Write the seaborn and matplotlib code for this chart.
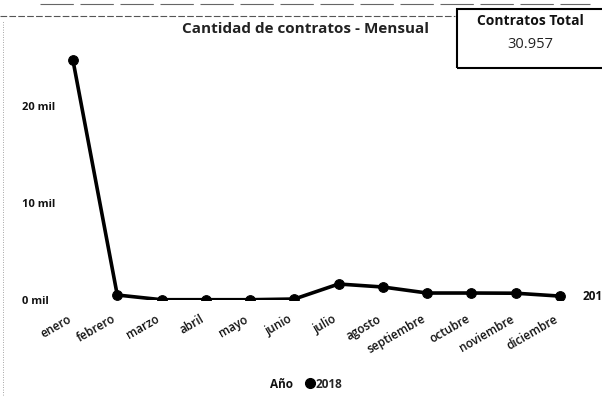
import matplotlib
matplotlib.use("Agg")
import matplotlib.pyplot as plt
import matplotlib.transforms as mtransforms
from matplotlib.lines import Line2D
from matplotlib.patches import Rectangle
import seaborn as sns
import pandas as pd

meses = ["enero", "febrero", "marzo", "abril", "mayo", "junio", "julio",
         "agosto", "septiembre", "octubre", "noviembre", "diciembre"]
contratos = [24720, 515, 30, 30, 30, 100, 1650, 1340, 720, 720, 700, 402]
anio = "2018"
etiqueta_visible = "201"
ytick_vals = [0, 10000, 20000]
ytick_labels = ["0 mil", "10 mil", "20 mil"]
titulo = "Cantidad de contratos - Mensual"
kpi_titulo = "Contratos Total"
kpi_valor = "30.957"

sns.set_theme(style="white")
plt.rcParams["font.family"] = ["Open Sans", "DejaVu Sans"]

df = pd.DataFrame({"mes": meses, "contratos": contratos, "idx": range(len(meses))})

W, H = 602, 403
fig = plt.figure(figsize=(W / 100, H / 100), dpi=100)
left_px, right_px = 59.7, 573.3
bottom_px, top_px = 103, 403 - 48
ax = fig.add_axes([left_px / W, bottom_px / H, (right_px - left_px) / W, (top_px - bottom_px) / H])

sns.lineplot(data=df, x="idx", y="contratos", ax=ax, color="black", linewidth=2.6,
             marker="o", markersize=7, markeredgecolor="black", markerfacecolor="black",
             legend=False)

ax.set_xlim(-0.3, 11.3)
ax.set_ylim(0, 26000)
for s in ax.spines.values():
    s.set_visible(False)
ax.set_xlabel("")
ax.set_ylabel("")

ax.set_yticks(ytick_vals)
ax.set_yticklabels(ytick_labels, fontsize=8, fontweight="bold", color="#111111")
ax.tick_params(axis="y", length=0, pad=27)
for lab in ax.get_yticklabels():
    lab.set_horizontalalignment("left")

ax.set_xticks(range(len(meses)))
ax.set_xticklabels(meses, fontsize=8.5, rotation=30, ha="right", va="top",
                   rotation_mode="anchor", color="#111111", fontweight="semibold")
ax.tick_params(axis="x", length=0, pad=9)
offset = mtransforms.ScaledTranslation(-6 / 100, 0, fig.dpi_scale_trans)
for lab in ax.get_xticklabels():
    lab.set_transform(lab.get_transform() + offset)

# data label on last point (truncated in the reference)
ax.annotate(etiqueta_visible, xy=(11, contratos[-1]), xytext=(16.5, 0), textcoords="offset points",
            fontsize=8.5, fontweight="bold", va="center", ha="left",
            color="#111111", annotation_clip=False)

# title
fig.text(305 / W, 1 - 29 / H, titulo, fontsize=11, fontweight="bold",
         ha="center", va="center", color="#222222")

# KPI card
fig.patches.append(Rectangle((457 / W, 1 - 68 / H), 150 / W, 59 / H,
                             transform=fig.transFigure, fill=False,
                             edgecolor="black", linewidth=1.5))
fig.text(530 / W, 1 - 21 / H, kpi_titulo, fontsize=10, fontweight="bold",
         ha="center", va="center", color="#111111", stretch="condensed")
fig.text(530 / W, 1 - 45 / H, kpi_valor, fontsize=10.5,
         ha="center", va="center", color="#222222")

# legend
handle = Line2D([], [], marker="o", color="black", linestyle="none", markersize=7)
leg = fig.legend(handles=[handle], labels=[anio], loc="center",
                 bbox_to_anchor=(324 / W, 1 - 384 / H), frameon=False,
                 fontsize=8.5, handletextpad=0.05, borderpad=0, handlelength=0.8)
for t in leg.get_texts():
    t.set_fontweight("bold")
fig.text(281 / W, 1 - 384 / H, "Año", fontsize=8.5, fontweight="bold",
         ha="center", va="center", color="#111111")

# scan artifacts: faint lines at top and left
fig.add_artist(Line2D([0, 455 / W], [1 - 16 / H, 1 - 16 / H], transform=fig.transFigure,
                      color="#555555", linewidth=0.8, linestyle=(0, (6, 2))))
fig.add_artist(Line2D([40 / W, 590 / W], [1 - 4 / H, 1 - 4 / H], transform=fig.transFigure,
                      color="#666666", linewidth=0.8, linestyle=(0, (30, 6))))
fig.add_artist(Line2D([3 / W, 3 / W], [0.02, 0.95], transform=fig.transFigure,
                      color="#888888", linewidth=0.6, linestyle=(0, (1, 2))))

fig.savefig("out.png", dpi=100, facecolor="white")
